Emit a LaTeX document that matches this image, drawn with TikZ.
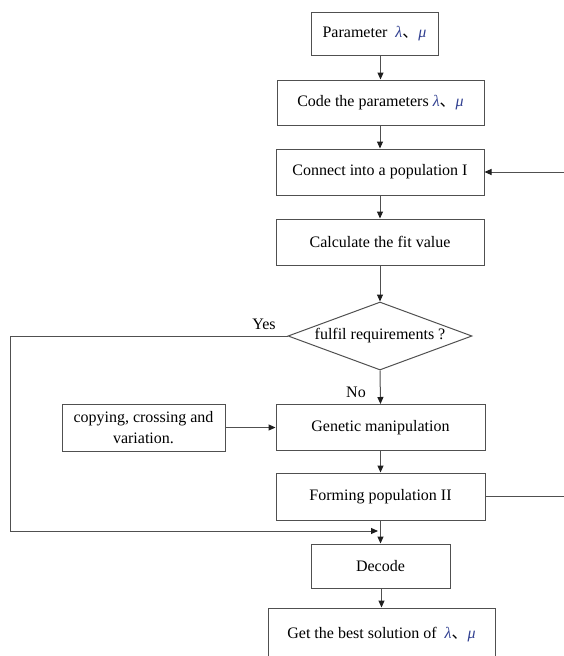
\documentclass[tikz,border=0pt]{standalone}
\usepackage{fontspec}
\setmainfont{Liberation Serif}
\newfontfamily\cjkfont{Noto Sans CJK SC}
\usetikzlibrary{shapes.geometric,arrows.meta}
\definecolor{linegray}{RGB}{80,80,80}
\definecolor{tipgray}{RGB}{30,30,30}
\definecolor{greek}{RGB}{50,65,145}
\newcommand{\lammu}{{\color{greek}\itshape λ}{\cjkfont 、}{\color{greek}\itshape μ}}
\begin{document}
\begin{tikzpicture}[x=1pt,y=-1pt,
  box/.style={draw=linegray, line width=1pt, rectangle, inner sep=0pt, align=center,
              font=\fontsize{16}{21}\selectfont},
  lbl/.style={font=\fontsize{16}{19}\selectfont, inner sep=0pt},
  conn/.style={draw=linegray, line width=1pt},
  arr/.style={conn, -{Triangle[length=7pt,width=6pt,color=tipgray]}}]
\useasboundingbox (0,0) rectangle (564,656);
\clip (0,0) rectangle (564,656);

\node[box, minimum width=127pt, minimum height=43pt] (p1) at (374.5,33.5) {Parameter\ \ \lammu};
\node[box, minimum width=207pt, minimum height=45pt] (p2) at (380.5,102.5) {Code the parameters \lammu};
\node[box, minimum width=208pt, minimum height=46pt] (p3) at (380,172) {Connect into a population I};
\node[box, minimum width=208pt, minimum height=46pt] (p4) at (380,242) {Calculate the fit value};
\node[diamond, draw=linegray, line width=1pt, minimum width=184pt, minimum height=68pt, inner sep=0pt] (d) at (380,336) {};
\node[lbl] (dt) at (d) {fulfil requirements ?};
\node[lbl] (yes) at (264,324) {Yes};
\node[lbl] (no) at (356,392) {No};
\node[box, minimum width=209pt, minimum height=46pt] (gm) at (380.5,427.5) {Genetic manipulation};
\node[box, minimum width=163pt, minimum height=47pt] (cp) at (143.5,427.5) {copying, crossing and\\variation.};
\node[box, minimum width=209pt, minimum height=47pt] (fp) at (380.5,496.5) {Forming population II};
\node[box, minimum width=139pt, minimum height=44pt] (dc) at (380.5,566) {Decode};
\node[box, minimum width=227pt, minimum height=54pt] (fin) at (381.5,635) {Get the best solution of\ \ \lammu};

\coordinate (yl) at (10,531);
\coordinate (ye) at (378,531);
\coordinate (rb) at (564,496.5);
\coordinate (rt) at (564,172);

\draw[arr] (p1.south -| p2.north) -- (p2.north);
\draw[arr] (p2.south -| p3.north) -- (p3.north);
\draw[arr] (p3) -- (p4);
\draw[arr] (p4.south) -- (d.north);
\draw[arr] (d.south) -- (gm.north);
\draw[arr] (cp.east) -- (gm.west);
\draw[arr] (gm) -- (fp);
\draw[arr] (fp.south -| dc.north) -- (dc.north);
\draw[arr] (dc.south -| fin.north) -- (fin.north);
\draw[arr] (d.west) -| (yl) -- (ye);
\draw[conn] (fp.east) -- (rb);
\draw[arr] (rt) -- (p3.east);
\end{tikzpicture}
\end{document}
